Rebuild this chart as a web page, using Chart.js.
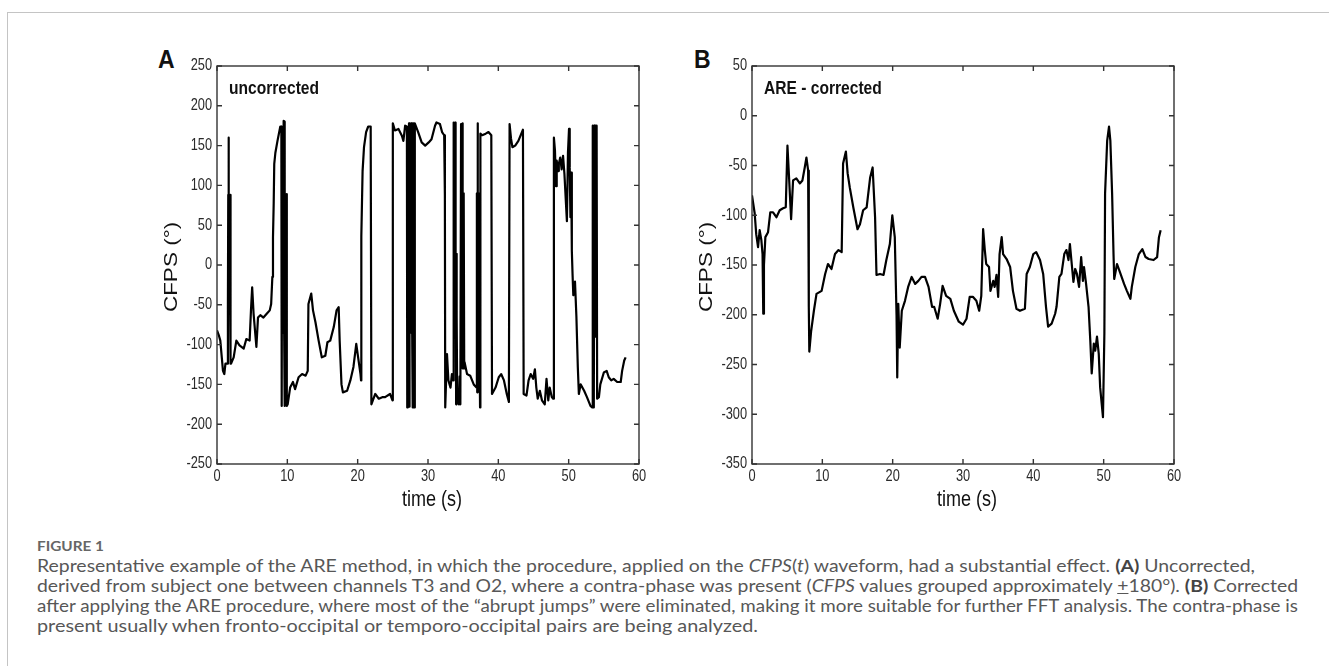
<!DOCTYPE html>
<html>
<head>
<meta charset="utf-8">
<script src="https://cdn.jsdelivr.net/npm/chart.js@4.4.1/dist/chart.umd.min.js"></script>
<style>
html,body{margin:0;padding:0;background:#fff;width:1329px;height:666px;overflow:hidden;}
#frame{position:absolute;left:7px;top:12px;width:1400px;height:700px;border-top:1px solid #c4c4c4;border-left:1px solid #c4c4c4;}
canvas{position:absolute;}
#cA{left:120px;top:40px;}
#cB{left:655px;top:40px;}
.plabel{position:absolute;font:bold 25px 'Liberation Sans',Arial,sans-serif;color:#111;line-height:1;transform:scaleX(0.92);transform-origin:0 0;}
.cap{position:absolute;left:37px;color:#575757;font-family:Lato,'Open Sans',sans-serif;white-space:nowrap;transform-origin:0 0;}
.fig{font-size:12.5px;font-weight:700;line-height:15px;color:#666;}
.ln{font-size:17px;line-height:20px;}
.cap b{font-weight:700;color:#444;}
</style>
</head>
<body>
<div id="frame"></div>
<div class="plabel" style="left:158px;top:47px;">A</div>
<div class="plabel" style="left:694px;top:47px;">B</div>
<canvas id="cA" width="540" height="490"></canvas>
<canvas id="cB" width="540" height="490"></canvas>

<div class="cap fig" data-w="67" style="top:539px;">FIGURE 1</div>
<div class="cap ln" data-w="1218" style="top:556px;">Representative example of the ARE method, in which the procedure, applied on the <i>CFPS</i>(<i>t</i>) waveform, had a substantial effect. <b>(A)</b> Uncorrected,</div>
<div class="cap ln" data-w="1261" style="top:576px;">derived from subject one between channels T3 and O2, where a contra-phase was present (<i>CFPS</i> values grouped approximately <u>+</u>180°). <b>(B)</b> Corrected</div>
<div class="cap ln" data-w="1261" style="top:596px;">after applying the ARE procedure, where most of the “abrupt jumps” were eliminated, making it more suitable for further FFT analysis. The contra-phase is</div>
<div class="cap ln" data-w="721" style="top:616px;">present usually when fronto-occipital or temporo-occipital pairs are being analyzed.</div>

<script>
// ---- Data ----
const xTickValues = [0, 10, 20, 30, 40, 50, 60];
const yTicksA = [-250, -200, -150, -100, -50, 0, 50, 100, 150, 200, 250];
const yTicksB = [-350, -300, -250, -200, -150, -100, -50, 0, 50];
const xTitle = 'time (s)';
const yTitle = 'CFPS (°)';

// Panel A: uncorrected CFPS (deg) vs time (s)
const timeA = [
  0, 0.25, 0.47, 0.7, 0.85, 1.04, 1.2, 1.45, 1.55, 1.6,
  1.63, 1.66, 1.7, 1.74, 1.78, 1.82, 1.86, 1.9, 1.95, 2.0,
  2.37, 2.75, 3.2, 3.8, 4.17, 4.64, 4.83, 5.0, 5.2, 5.6,
  5.83, 6.16, 6.6, 7.1, 7.5, 7.7, 7.87, 7.96, 8.06, 8.14,
  8.3, 8.6, 9.0, 9.15, 9.2, 9.25, 9.3, 9.35, 9.4, 9.45,
  9.5, 9.55, 9.6, 9.65, 9.7, 9.75, 9.8, 9.85, 9.9, 9.95,
  10.05, 10.4, 10.8, 11.1, 11.6, 12.1, 12.6, 12.9, 13.0, 13.4,
  13.65, 14.0, 14.45, 14.9, 15.4, 15.7, 16.1, 16.6, 17.0, 17.3,
  17.44, 17.7, 17.9, 18.5, 18.96, 19.4, 19.8, 20.0, 20.4, 20.48,
  20.52, 20.7, 20.9, 21.2, 21.5, 21.85, 21.95, 22.5, 23.0, 23.5,
  23.9, 24.6, 24.95, 25.0, 25.3, 25.8, 26.3, 26.5, 26.75, 27.0,
  27.05, 27.1, 27.15, 27.2, 27.25, 27.3, 27.35, 27.4, 27.45, 27.5,
  27.55, 27.6, 27.65, 27.7, 27.75, 27.8, 27.85, 27.9, 27.95, 28.0,
  28.05, 28.1, 28.15, 28.6, 29.1, 29.6, 30.1, 30.5, 31.0, 31.2,
  31.7, 32.0, 32.3, 32.4, 32.45, 32.7, 32.9, 33.2, 33.4, 33.6,
  33.65, 33.7, 33.75, 33.8, 33.85, 33.9, 33.95, 34.0, 34.05, 34.1,
  34.15, 34.4, 34.5, 34.6, 34.7, 34.75, 34.8, 34.85, 34.9, 34.95,
  35.0, 35.05, 35.1, 35.15, 35.2, 35.55, 36.0, 36.5, 36.9, 36.95,
  37.0, 37.05, 37.1, 37.15, 37.2, 37.25, 37.3, 37.4, 37.45, 37.7,
  38.2, 38.6, 39.0, 39.1, 39.6, 40.06, 40.4, 40.8, 41.2, 41.5,
  41.6, 41.8, 42.0, 42.4, 42.85, 43.5, 43.6, 44.0, 44.3, 44.6,
  44.95, 45.2, 45.4, 45.6, 45.9, 46.2, 46.6, 46.85, 47.1, 47.3,
  47.6, 47.8, 47.9, 48.05, 48.2, 48.3, 48.5, 48.6, 48.8, 49.0,
  49.2, 49.4, 49.6, 49.75, 49.9, 50.05, 50.15, 50.25, 50.35, 50.45,
  50.55, 50.66, 50.9, 51.1, 51.3, 51.45, 51.7, 52.2, 52.6, 53.1,
  53.35, 53.4, 53.45, 53.5, 53.55, 53.6, 53.65, 53.7, 53.75, 53.8,
  53.85, 53.9, 53.95, 54.0, 54.05, 54.3, 54.5, 55.0, 55.4, 55.7,
  56.05, 56.4, 56.9, 57.4, 57.6, 57.9, 58.1
];
const cfpsA = [
  -82, -88, -95, -118, -133, -137, -124, -124, -55, 88,
  -55, 160, -55, 88, -55, 88, -55, 88, -124, -124,
  -116, -95, -101, -105, -93, -95, -57, -28, -61, -103,
  -66, -63, -66, -61, -57, -49, -15, 35, 77, 127,
  141, 156, 174, 174, -177, 89, -85, 89, -85, 181,
  89, -85, 180, -177, 89, -85, 89, -85, 89, -177,
  -175, -154, -147, -156, -141, -137, -139, -133, -49, -36,
  -57, -72, -95, -116, -114, -97, -95, -78, -57, -53,
  -95, -150, -160, -158, -145, -128, -99, -112, -137, -145,
  36, 118, 148, 167, 174, 174, -175, -162, -168, -166,
  -166, -162, -170, 178, 169, 171, 162, 156, 175, 174,
  -179, 89, -85, 89, -85, 178, -178, 89, -85, 89,
  -85, 178, -85, 89, -85, 178, -179, 89, -85, 178,
  -179, 89, 178, 167, 154, 150, 154, 158, 175, 179,
  177, 167, 163, 87, -179, -112, -145, -154, -137, -145,
  179, -65, 14, -65, 179, -65, 14, -175, 14, -65,
  -162, -175, -140, -175, 177, -90, 90, -100, 178, -130,
  60, -125, 90, -130, -122, -137, -139, -150, -154, 90,
  -160, 178, -60, 90, -90, 60, -80, -179, 165, 163,
  165, 167, 163, -162, -154, -141, -137, -145, -162, -172,
  177, 159, 148, 150, 156, 170, -162, -164, -145, -137,
  -143, -131, -154, -168, -158, -170, -175, -143, -170, -154,
  -166, -168, 160, 144, 99, 131, 118, 127, 135, 120,
  137, 114, 80, 55, 141, 171, 122, 60, 116, 18,
  -11, -38, -21, -65, -128, -162, -150, -158, -166, -177,
  -179, 175, 85, -90, 85, -179, 175, -90, 85, 175,
  -90, 85, -90, 175, -168, -166, -150, -135, -133, -141,
  -145, -143, -147, -147, -133, -120, -116
];

// Panel B: ARE-corrected CFPS (deg) vs time (s)
const timeB = [
  0, 0.38, 0.6, 0.86, 1.09, 1.33, 1.5, 1.6, 1.7, 1.9,
  2.28, 2.6, 2.99, 3.47, 3.94, 4.42, 4.8, 5.04, 5.27, 5.56,
  5.84, 6.3, 6.8, 7.17, 7.5, 7.74, 7.98, 8.05, 8.1, 8.15,
  8.4, 8.8, 9.17, 9.9, 10.4, 10.8, 11.3, 11.8, 12.3, 12.75,
  12.95, 13.35, 13.6, 13.9, 14.4, 15.0, 15.35, 15.8, 16.3, 16.8,
  17.15, 17.5, 17.7, 18.2, 18.7, 19.1, 19.6, 19.95, 20.3, 20.55,
  20.65, 20.8, 21.0, 21.3, 21.75, 22.2, 22.7, 23.2, 23.65, 24.1,
  24.6, 25.1, 25.6, 25.9, 26.4, 26.75, 27.1, 27.6, 28.2, 28.7,
  29.4, 30.0, 30.5, 30.95, 31.4, 31.9, 32.3, 32.6, 32.86, 33.1,
  33.3, 33.7, 33.9, 34.3, 34.5, 34.76, 35.0, 35.2, 35.5, 35.7,
  36.2, 36.7, 37.1, 37.6, 38.1, 38.8, 39.05, 39.5, 40.0, 40.4,
  40.95, 41.4, 41.8, 42.1, 42.6, 43.1, 43.3, 43.7, 44.0, 44.4,
  44.7, 45.0, 45.2, 45.5, 45.7, 45.95, 46.2, 46.5, 46.8, 47.05,
  47.2, 47.5, 47.85, 48.1, 48.3, 48.6, 48.8, 49.05, 49.3, 49.5,
  49.9, 50.1, 50.2, 50.5, 50.76, 50.95, 51.2, 51.4, 51.5, 51.9,
  52.4, 52.9, 53.3, 53.8, 54.0, 54.5, 55.0, 55.5, 55.95, 56.4,
  57.1, 57.6, 57.86, 58.1
];
const cfpsB = [
  -80, -98, -119, -132, -115, -125, -139, -199, -150, -122,
  -117, -97, -97, -102, -95, -93, -92, -30, -62, -104,
  -65, -63, -68, -65, -52, -42, -55, -105, -192, -237,
  -217, -196, -179, -176, -159, -149, -154, -139, -135, -137,
  -48, -36, -58, -72, -92, -114, -109, -95, -92, -62,
  -52, -102, -160, -159, -160, -145, -129, -100, -122, -200,
  -263, -189, -233, -196, -186, -172, -162, -169, -166, -162,
  -162, -172, -192, -192, -204, -189, -171, -181, -184, -196,
  -207, -210, -204, -182, -182, -186, -196, -181, -114, -135,
  -149, -152, -176, -166, -172, -160, -182, -139, -122, -139,
  -144, -152, -176, -194, -196, -194, -159, -152, -139, -137,
  -145, -159, -192, -212, -209, -199, -192, -162, -159, -139,
  -135, -145, -129, -152, -167, -154, -159, -172, -142, -166,
  -152, -169, -192, -226, -259, -229, -236, -222, -239, -273,
  -303, -219, -78, -25, -11, -25, -78, -139, -164, -149,
  -159, -169, -176, -184, -172, -152, -139, -134, -142, -144,
  -145, -142, -122, -115
];

// ---- Styling ----
const SANS = "'Liberation Sans', Arial, sans-serif";
const SQ = 0.8; // horizontal squeeze of the narrow MATLAB-style lettering

function squeezedText(ctx, text, x, y, font, align, sx, sy, rot) {
  ctx.save();
  ctx.translate(x, y);
  if (rot) ctx.rotate(rot);
  ctx.scale(sx, sy);
  ctx.font = font;
  ctx.textAlign = align;
  ctx.textBaseline = 'middle';
  ctx.fillText(text, 0, 0);
  ctx.restore();
}

const boxPlugin = {
  id: 'panelBox',
  afterDraw(chart, args, opts) {
    const ctx = chart.ctx;
    const {left, right, top, bottom} = chart.chartArea;
    const xs = chart.scales.x, ys = chart.scales.y;
    const L = 5;
    ctx.save();
    // axes box with inward ticks on all four sides
    ctx.strokeStyle = '#333';
    ctx.lineWidth = 1.4;
    ctx.strokeRect(left, top, right - left, bottom - top);
    ctx.beginPath();
    xs.ticks.forEach(t => {
      const p = xs.getPixelForValue(t.value);
      ctx.moveTo(p, bottom); ctx.lineTo(p, bottom - L);
      ctx.moveTo(p, top); ctx.lineTo(p, top + L);
    });
    ys.ticks.forEach(t => {
      const p = ys.getPixelForValue(t.value);
      ctx.moveTo(left, p); ctx.lineTo(left + L, p);
      ctx.moveTo(right, p); ctx.lineTo(right - L, p);
    });
    ctx.stroke();
    // tick labels (narrow lettering)
    ctx.fillStyle = '#2a2a2a';
    xs.ticks.forEach(t => {
      squeezedText(ctx, String(t.value), xs.getPixelForValue(t.value), bottom + 13, '16px ' + SANS, 'center', SQ, 1, 0);
    });
    ys.ticks.forEach(t => {
      squeezedText(ctx, String(t.value), left - 5, ys.getPixelForValue(t.value), '16px ' + SANS, 'right', SQ, 1, 0);
    });
    // axis titles
    ctx.fillStyle = '#111';
    squeezedText(ctx, xTitle, (left + right) / 2 + 4, bottom + 36, '22px ' + SANS, 'center', 0.82, 1, 0);
    squeezedText(ctx, yTitle, 52, (top + bottom) / 2 + 2, '22.5px ' + SANS, 'center', 1, 0.81, -Math.PI / 2);
    // in-plot label
    squeezedText(ctx, opts.label, left + 12, top + 23, 'bold 19px ' + SANS, 'left', 0.82, 1, 0);
    ctx.restore();
  }
};

function makeChart(id, times, values, yTicks, label) {
  const pts = times.map((t, i) => ({x: t, y: values[i]}));
  return new Chart(document.getElementById(id), {
    type: 'line',
    data: {datasets: [{
      data: pts, borderColor: '#000', borderWidth: 2.2, pointRadius: 0,
      tension: 0, fill: false, borderJoinStyle: 'round'
    }]},
    options: {
      responsive: false, animation: false, devicePixelRatio: 1,
      layout: {padding: {top: 26, right: 21, bottom: 0, left: 0}},
      plugins: {legend: {display: false}, tooltip: {enabled: false}, panelBox: {label: label}},
      scales: {
        x: {
          type: 'linear', min: xTickValues[0], max: xTickValues[xTickValues.length - 1],
          afterBuildTicks: s => { s.ticks = xTickValues.map(v => ({value: v})); },
          afterFit: s => { s.height = 66; },
          grid: {display: false, drawTicks: false}, border: {display: false},
          ticks: {display: false}
        },
        y: {
          type: 'linear', min: yTicks[0], max: yTicks[yTicks.length - 1],
          afterBuildTicks: s => { s.ticks = yTicks.map(v => ({value: v})); },
          afterFit: s => { s.width = 97; },
          grid: {display: false, drawTicks: false}, border: {display: false},
          ticks: {display: false}
        }
      }
    },
    plugins: [boxPlugin]
  });
}

makeChart('cA', timeA, cfpsA, yTicksA, 'uncorrected');
makeChart('cB', timeB, cfpsB, yTicksB, 'ARE - corrected');

// fit caption lines to the measured line widths of the reference
function fitCaption() {
  document.querySelectorAll('.cap').forEach(el => {
    const target = parseFloat(el.dataset.w);
    el.style.transform = 'none';
    const w = el.getBoundingClientRect().width;
    if (w > 0) el.style.transform = 'scaleX(' + (target / w) + ')';
  });
}
fitCaption();
if (document.fonts && document.fonts.ready) document.fonts.ready.then(fitCaption);
</script>
</body>
</html>
